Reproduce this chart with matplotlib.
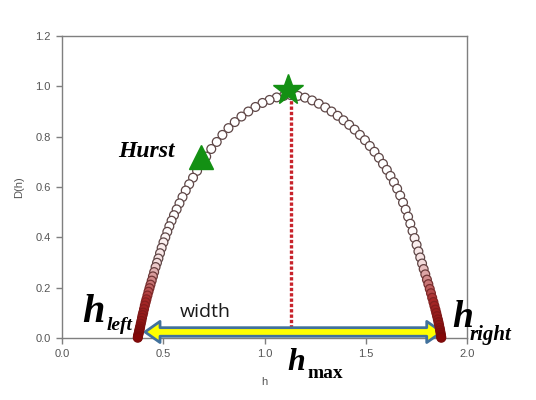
import numpy as np
import matplotlib
matplotlib.use('agg')
import matplotlib.pyplot as plt
import matplotlib.patches as mpatches
from matplotlib.colors import LinearSegmentedColormap

# multifractal spectrum D(h)
h_left_branch = [1.13, 1.095, 1.06, 1.025, 0.99, 0.955, 0.92, 0.886, 0.853, 0.822,
                 0.792, 0.764, 0.737, 0.712, 0.689, 0.667, 0.647, 0.628, 0.611, 0.595,
                 0.580, 0.566, 0.553, 0.541, 0.530, 0.520, 0.510, 0.501, 0.492, 0.484,
                 0.476, 0.469, 0.462, 0.455, 0.449, 0.443, 0.437, 0.432, 0.427, 0.422,
                 0.417, 0.413, 0.409, 0.405, 0.401, 0.398, 0.395, 0.392, 0.389, 0.386,
                 0.384, 0.382, 0.380, 0.378, 0.376, 0.375, 0.374]
D_left_branch = [0.965, 0.962, 0.956, 0.946, 0.934, 0.918, 0.900, 0.880, 0.858, 0.834,
                 0.807, 0.779, 0.751, 0.721, 0.694, 0.664, 0.637, 0.611, 0.586, 0.560,
                 0.535, 0.511, 0.488, 0.466, 0.444, 0.422, 0.400, 0.380, 0.358, 0.337,
                 0.316, 0.299, 0.282, 0.262, 0.245, 0.228, 0.212, 0.198, 0.184, 0.169,
                 0.154, 0.142, 0.129, 0.115, 0.101, 0.091, 0.080, 0.068, 0.057, 0.046,
                 0.038, 0.031, 0.024, 0.017, 0.010, 0.005, 0.001]
h_right_branch = [1.165, 1.20, 1.235, 1.268, 1.30, 1.331, 1.361, 1.39, 1.418, 1.445,
                  1.471, 1.496, 1.52, 1.543, 1.565, 1.585, 1.604, 1.622, 1.639, 1.655,
                  1.670, 1.684, 1.697, 1.709, 1.720, 1.731, 1.741, 1.751, 1.760, 1.769,
                  1.778, 1.786, 1.794, 1.802, 1.809, 1.816, 1.822, 1.828, 1.834, 1.839,
                  1.844, 1.848, 1.852, 1.856, 1.859, 1.862, 1.865, 1.867, 1.869, 1.871,
                  1.872, 1.873]
D_right_branch = [0.962, 0.955, 0.944, 0.931, 0.916, 0.900, 0.883, 0.865, 0.847, 0.828,
                  0.807, 0.786, 0.763, 0.740, 0.716, 0.692, 0.668, 0.644, 0.619, 0.593,
                  0.566, 0.538, 0.510, 0.482, 0.454, 0.425, 0.397, 0.370, 0.344, 0.320,
                  0.296, 0.274, 0.253, 0.232, 0.214, 0.195, 0.178, 0.160, 0.143, 0.128,
                  0.113, 0.100, 0.087, 0.074, 0.063, 0.052, 0.040, 0.031, 0.022, 0.013,
                  0.006, 0.001]

h_max_pt = [1.116]
D_max_pt = [0.985]
h_hurst = [0.686]
D_hurst = [0.719]

width_start = 0.41
width_end = 1.875
width_level = 0.024
h_line = 1.13

fig = plt.figure(figsize=(5.36, 4.0), dpi=100, facecolor='w')
ax = fig.add_axes([0.1157, 0.155, 0.7556, 0.755])

# width arrow (yellow, blue outline)
hl, hh, tw = 0.074, 0.042, 0.017
x0, x1, y = width_start, width_end, width_level
arrow = mpatches.Polygon([(x0, y), (x0 + hl, y + hh), (x0 + hl, y + tw), (x1 - hl, y + tw),
                          (x1 - hl, y + hh), (x1, y), (x1 - hl, y - hh), (x1 - hl, y - tw),
                          (x0 + hl, y - tw), (x0 + hl, y - hh)], closed=True,
                         fc='#ffff00', ec='#41719c', lw=2, joinstyle='round',
                         clip_on=False, zorder=3)
ax.add_patch(arrow)

# dotted line to the maximum
ax.plot([h_line, h_line], [width_level + tw, 0.965], color='#c8232b', lw=2.4,
        linestyle=(0, (1, 0.6)), zorder=2)

h_all = np.array(h_left_branch + h_right_branch)
D_all = np.array(D_left_branch + D_right_branch)
face_cm = LinearSegmentedColormap.from_list('f', ['#850808', '#a82a2a', '#f4dede', '#ffffff'])
edge_cm = LinearSegmentedColormap.from_list('e', ['#7a0a0a', '#862424', '#5e4646', '#5e4646'])
t = np.clip(D_all / 0.45, 0, 1)
ax.scatter(h_all, D_all, s=40, facecolors=face_cm(t), edgecolors=edge_cm(t),
           linewidths=0.9, zorder=4, clip_on=False)

ax.plot(h_max_pt, D_max_pt, marker='*', ms=23, color='#139013', mec='#139013', ls='none', zorder=6, clip_on=False)
ax.plot(h_hurst, D_hurst, marker='^', ms=17, color='#139013', mec='#139013', ls='none', zorder=6)

ax.set_xlim(0, 2.0)
ax.set_ylim(0, 1.2)
ax.set_xticks([0.0, 0.5, 1.0, 1.5, 2.0])
ax.set_yticks([0.0, 0.2, 0.4, 0.6, 0.8, 1.0, 1.2])
ax.xaxis.set_major_formatter(plt.FormatStrFormatter('%.1f'))
ax.yaxis.set_major_formatter(plt.FormatStrFormatter('%.1f'))
for s in ax.spines.values():
    s.set_color('#7f7f7f')
    s.set_linewidth(1.0)
ax.tick_params(direction='out', length=4, width=1, color='#7f7f7f', labelcolor='#555555',
               labelsize=8, pad=4)
for lab in ax.get_xticklabels() + ax.get_yticklabels():
    lab.set_family('Liberation Sans')
ax.set_xlabel('h', fontsize=8, color='#555555', family='Liberation Sans', labelpad=13)
ax.set_ylabel('D(h)', fontsize=8, color='#555555', family='Liberation Sans', labelpad=8)

serif = 'Liberation Serif'
ax.text(0.099, 0.064, 'h', fontsize=29, family=serif, weight='bold', style='italic',
        ha='left', va='baseline', clip_on=False, zorder=7)
ax.text(0.222, 0.032, 'left', fontsize=14, family=serif, weight='bold', style='italic',
        ha='left', va='baseline', clip_on=False, zorder=7)
ax.text(1.111, -0.127, 'h', fontsize=23, family=serif, weight='bold', style='italic',
        ha='left', va='baseline', clip_on=False, zorder=7)
ax.text(1.21, -0.159, 'max', fontsize=14, family=serif, weight='bold',
        ha='left', va='baseline', clip_on=False, zorder=7)
ax.text(1.926, 0.044, 'h', fontsize=27, family=serif, weight='bold', style='italic',
        ha='left', va='baseline', clip_on=False, zorder=7)
ax.text(2.015, -0.008, 'right', fontsize=15, family=serif, weight='bold', style='italic',
        ha='left', va='baseline', clip_on=False, zorder=7)
ax.text(0.275, 0.72, 'Hurst', fontsize=17, family=serif, weight='bold', style='italic',
        ha='left', va='baseline', zorder=7)
ax.text(0.706, 0.085, 'width', fontsize=14, family='Open Sans', color='#1a1a1a',
        ha='center', va='baseline', zorder=7)

fig.savefig('out.png', dpi=100)
plt.close('all')
